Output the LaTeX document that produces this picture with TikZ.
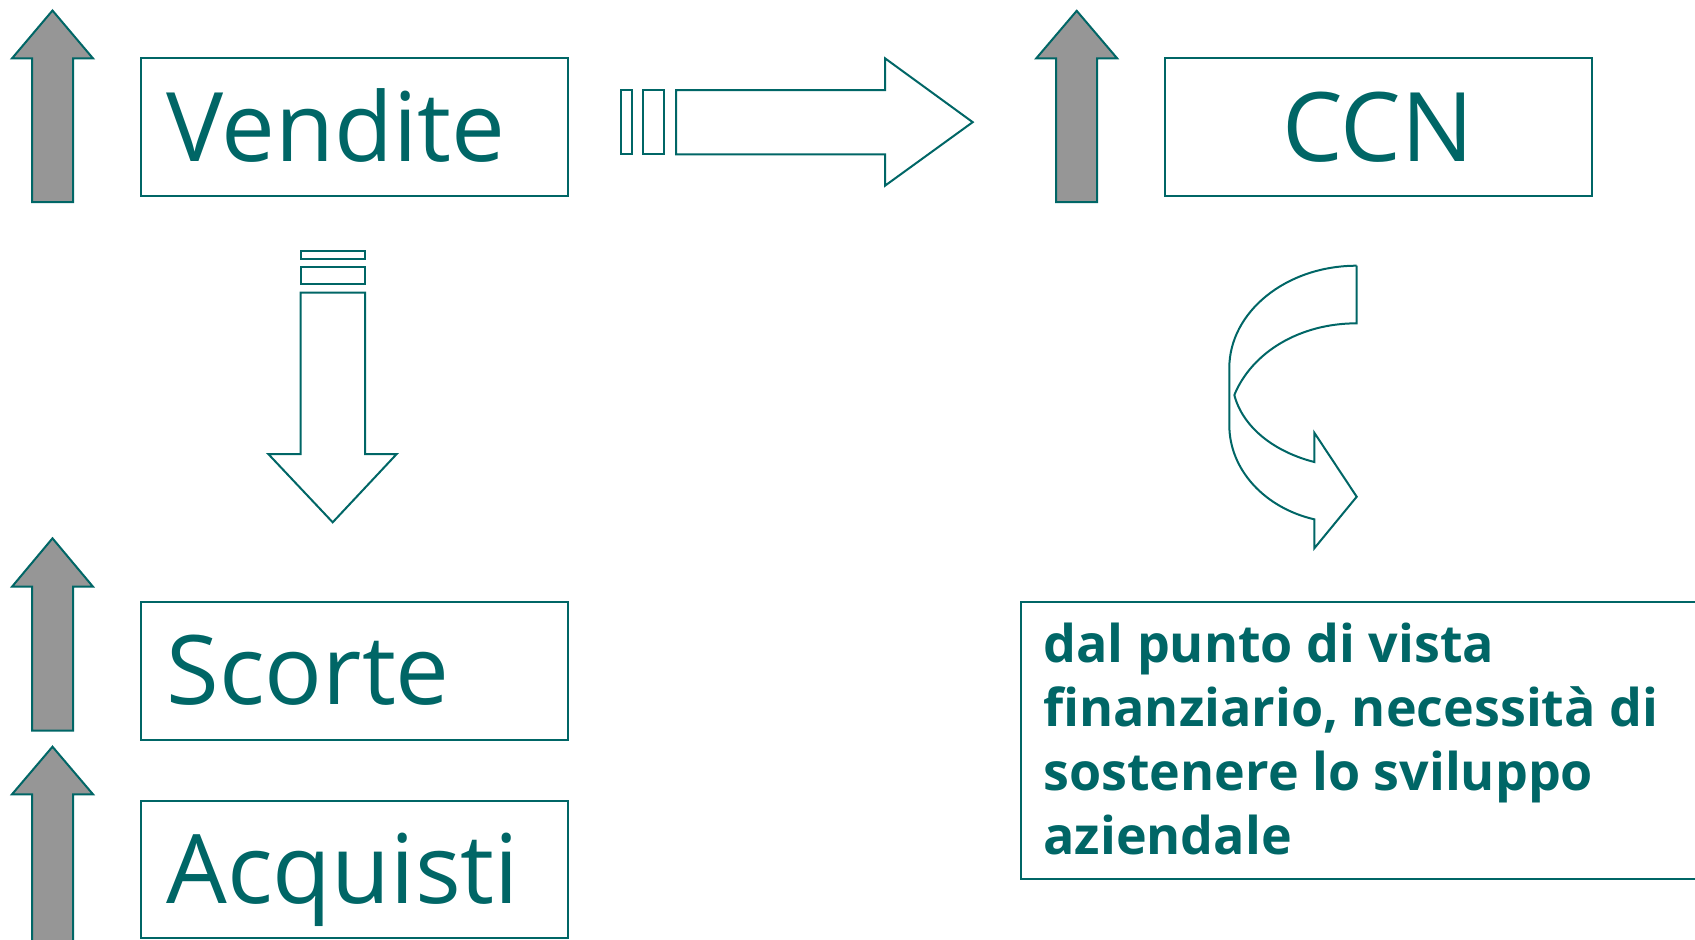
\documentclass[tikz,border=0pt]{standalone}
\usepackage{fontspec}
\setmainfont{Open Sans}
\definecolor{tealc}{RGB}{0,102,102}
\definecolor{arrgray}{RGB}{150,150,150}
\begin{document}
\begin{tikzpicture}[x=0.5pt,y=-0.5pt,line join=miter,
  box/.style={draw=tealc,line width=1pt,rectangle,minimum width=213.5pt,minimum height=68.6pt,
    inner xsep=13pt,inner ysep=0pt,text width=187.5pt,align=left,text height=34pt,text depth=0pt,
    font=\fontsize{48}{56}\selectfont,text=tealc},
  uparr/.style={draw=tealc,line width=1pt,fill=arrgray},
  blockarr/.style={draw=tealc,line width=1pt,fill=white}]
\useasboundingbox (0,0) rectangle (1695,939);
% boxes
\node[box] (vendite) at (354,127.05) {Vendite};
\node[box,align=center] (ccn) at (1378,127.05) {CCN};
\node[box] (scorte) at (354,670.9) {Scorte};
\node[box] (acquisti) at (354,869.7) {Acquisti};
% up arrows
\foreach \cx/\tip/\base/\bot in {52.5/10.5/58.4/202, 52.5/538.3/586.7/730.7, 52.5/746.7/794.3/942, 1076.7/10.8/58.4/202}{
  \draw[uparr] (\cx,\tip) -- (\cx+40.5,\base) -- (\cx+20.5,\base) -- (\cx+20.5,\bot)
     -- (\cx-20.5,\bot) -- (\cx-20.5,\base) -- (\cx-40.5,\base) -- cycle;
}
% right block arrow
\draw[blockarr] (620.7,90) rectangle (632,154.3);
\draw[blockarr] (642.7,90) rectangle (664.3,154.3);
\draw[blockarr] (676,90) -- (885,90) -- (885,58.3) -- (972.7,122.15) -- (885,185.7) -- (885,154.3) -- (676,154.3) -- cycle;
% down block arrow
\draw[blockarr] (300.7,250.7) rectangle (365,259);
\draw[blockarr] (300.7,267.3) rectangle (365,284.3);
\draw[blockarr] (300.7,292.7) -- (365,292.7) -- (365,454) -- (396.7,454) -- (332.7,522.3) -- (268.3,454) -- (300.7,454) -- cycle;
% curved arrow
\draw[blockarr,fill=none] (1356.7,265.7) -- (1356.7,323.3)
   .. controls (1300,323.3) and (1252,352) .. (1234.3,395);
\draw[blockarr,fill=none] (1356.7,265.7) .. controls (1286,265.7) and (1229.3,312) .. (1229.3,368)
   -- (1229.3,425) .. controls (1229.3,470) and (1265,508) .. (1314.3,519.3)
   -- (1314.3,548.3) -- (1356.7,496.7) -- (1314.3,432.7) -- (1314.3,462)
   .. controls (1275,452) and (1243,428) .. (1234.3,395);
% note box
\draw[draw=tealc,line width=1pt] (1700,602) -- (1020.6,602) -- (1020.6,879.3) -- (1700,879.3);
\node[anchor=north west,inner sep=0pt,align=left,text=tealc,font=\fontsize{26}{32}\selectfont\bfseries] (nota) at (1043,623)
  {dal punto di vista\\finanziario, necessità di\\sostenere lo sviluppo\\aziendale};
\end{tikzpicture}
\end{document}
